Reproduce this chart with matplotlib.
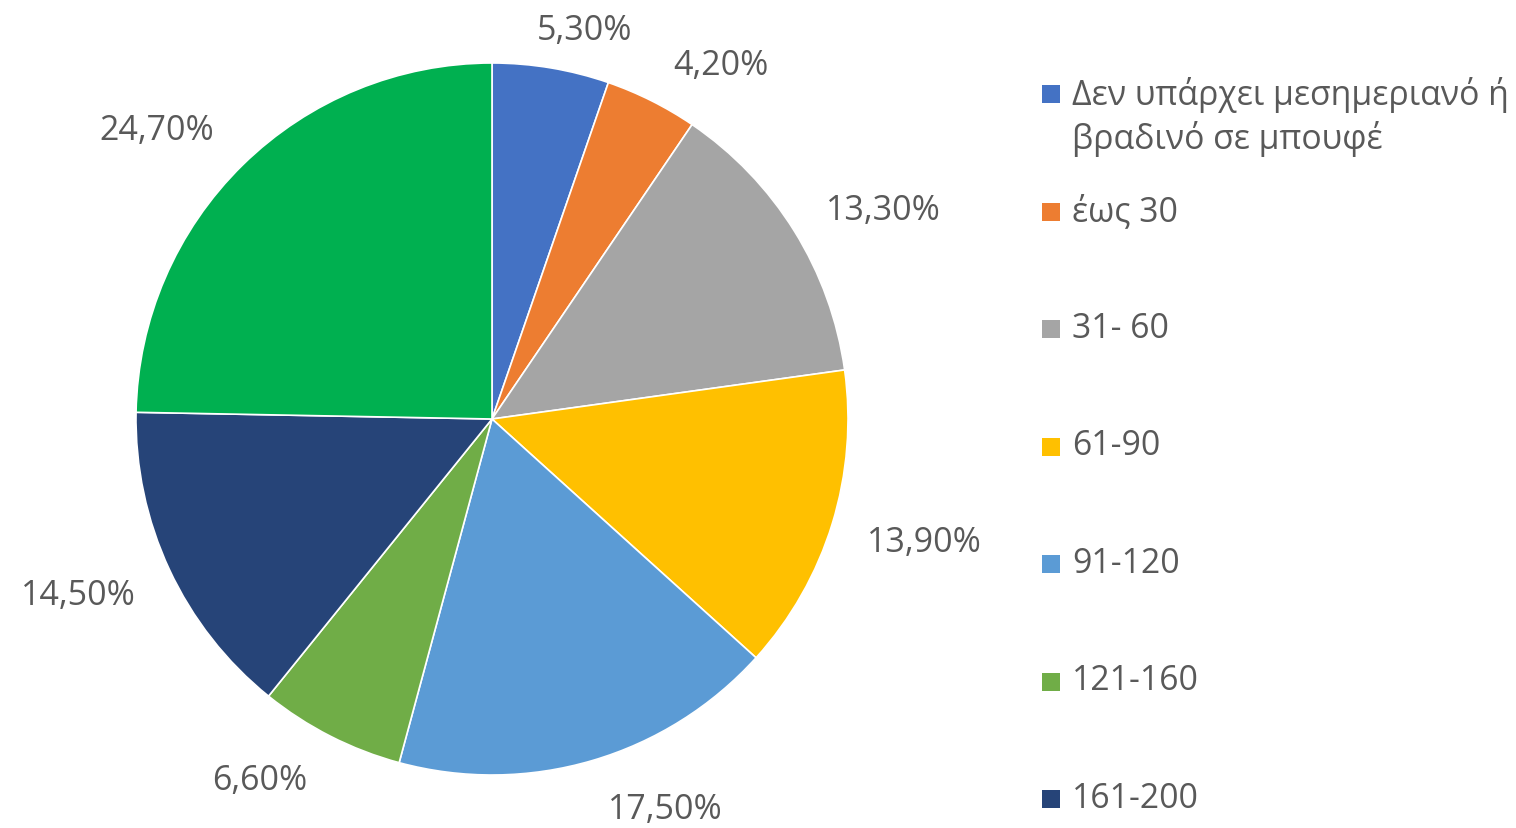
import matplotlib
matplotlib.use("Agg")
import matplotlib.pyplot as plt
from matplotlib.patches import Rectangle
import numpy as np

categories = ["Δεν υπάρχει μεσημεριανό ή\nβραδινό σε μπουφέ", "έως 30", "31- 60", "61-90",
              "91-120", "121-160", "161-200", ""]
values = [5.3, 4.2, 13.3, 13.9, 17.5, 6.6, 14.5, 24.7]
pct_labels = ["5,30%", "4,20%", "13,30%", "13,90%", "17,50%", "6,60%", "14,50%", "24,70%"]
colors = ["#4472C4", "#ED7D31", "#A5A5A5", "#FFC000", "#5B9BD5", "#70AD47", "#264478", "#00B050"]
label_dist = [1.13, 1.19, 1.25, 1.26, 1.19, 1.20, 1.26, 1.25]
label_ang_shift = [-3.7, -6, -3.5, 1.5, 7.7, -6, -2.3, 4.5]

plt.rcParams['font.family'] = ['Open Sans', 'DejaVu Sans']
W, H = 1516, 829
fig = plt.figure(figsize=(W / 100, H / 100), dpi=100)
cx, cy, r = 492, 420, 356
ax = fig.add_axes([(cx - r) / W, (H - cy - r) / H, 2 * r / W, 2 * r / H])
wedges, _ = ax.pie(values, colors=colors, startangle=90, counterclock=False,
                   wedgeprops=dict(edgecolor="white", linewidth=1.2))
ax.set_xlim(-1, 1)
ax.set_ylim(-1, 1)
ax.set_aspect("equal")
ax.axis("off")

for w, lab, d, s in zip(wedges, pct_labels, label_dist, label_ang_shift):
    ang = np.deg2rad((w.theta1 + w.theta2) / 2 + s)
    ax.text(d * np.cos(ang), d * np.sin(ang) - 0.008, lab, ha="center", va="center",
            fontsize=24.5, color="#595959", clip_on=False)

step = 117.5
y0 = 95
for i in range(7):
    yc = y0 + i * step
    fig.patches.append(Rectangle(((1042) / W, (H - yc - 9) / H), 18 / W, 18 / H,
                                 transform=fig.transFigure, facecolor=colors[i],
                                 edgecolor="none"))
    fig.text(1072 / W, (H - yc + 18) / H, categories[i], ha="left", va="top",
             fontsize=24.3, color="#595959", linespacing=1.3)

fig.savefig("out.png", dpi=100, facecolor="white")
